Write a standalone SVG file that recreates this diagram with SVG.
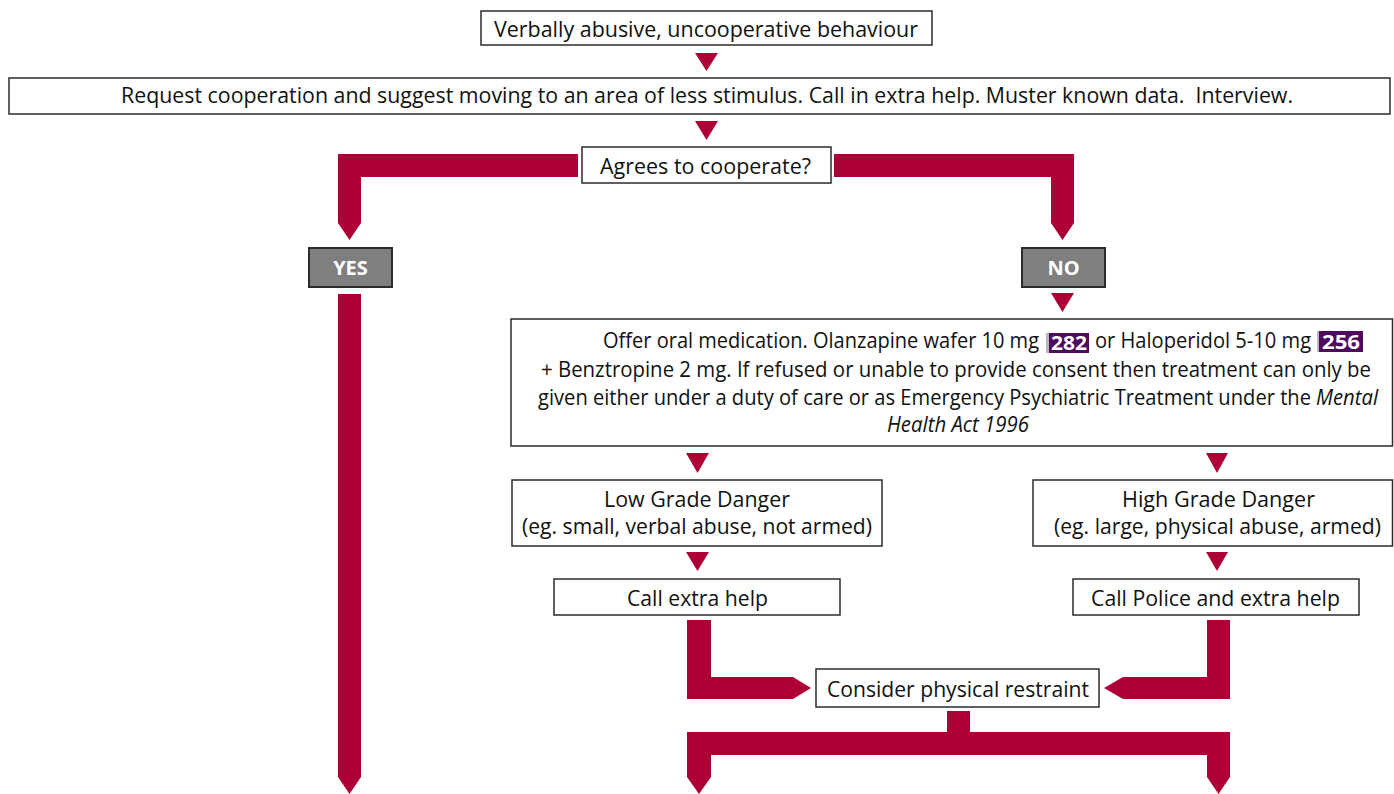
<svg xmlns="http://www.w3.org/2000/svg" width="1394" height="794" viewBox="0 0 1394 794">
  <style>
    .box { fill: #ffffff; stroke: #2b2b2b; stroke-width: 1.5; }
    .grey { fill: #7f7f7f; stroke: #2b2b2b; stroke-width: 2; }
    .flow { fill: #ad0034; }
    .t { font-family: "Open Sans", "Liberation Sans", sans-serif; font-size: 21px; fill: #111111; text-anchor: middle; }
    .tl { font-family: "Open Sans", "Liberation Sans", sans-serif; font-size: 21px; fill: #111111; }
    .lbl { font-family: "Open Sans", "Liberation Sans", sans-serif; font-size: 20px; font-weight: bold; fill: #ffffff; text-anchor: middle; }
    .badge { fill: #4e0a5f; }
    .sliver { fill: #b8b8b8; }
    .bt { font-family: "Open Sans", "Liberation Sans", sans-serif; font-size: 20px; font-weight: bold; fill: #ffffff; }
    .it { font-style: italic; }
  </style>

  <!-- connectors: thick flow arrows and small arrowheads -->
  <g id="connectors">
    <polygon class="flow" points="695,53 718,53 706.5,71"/>
    <polygon class="flow" points="695,121 718,121 706.5,140"/>
    <polygon class="flow" points="578,154 338,154 338,223 349.5,240 361,223 361,177 578,177"/>
    <polygon class="flow" points="834,154 1074,154 1074,223 1062.5,240 1051,223 1051,177 834,177"/>
    <polygon class="flow" points="338,294 361,294 361,777 349.5,794 338,777"/>
    <polygon class="flow" points="1051,293 1074,293 1062.5,312"/>
    <polygon class="flow" points="686,453 709,453 697.5,473"/>
    <polygon class="flow" points="1206,453 1228,453 1217,473"/>
    <polygon class="flow" points="686,552 709,552 697.5,571"/>
    <polygon class="flow" points="1206,552 1228,552 1217,571"/>
    <polygon class="flow" points="687,620 711,620 711,677 793,677 811,688 793,699 687,699"/>
    <polygon class="flow" points="1230,620 1207,620 1207,677 1123,677 1104,688 1123,699 1230,699"/>
    <polygon class="flow" points="947,711 970,711 970,732 1230,732 1230,777 1218.5,794 1207,777 1207,755 711,755 711,777 699,794 687,777 687,732 947,732"/>
  </g>

  <g id="start">
    <rect class="box" x="481" y="11" width="451" height="34"/>
    <text class="t" x="706" y="37" textLength="424" lengthAdjust="spacingAndGlyphs">Verbally abusive, uncooperative behaviour</text>
  </g>

  <g id="request">
    <rect class="box" x="9" y="78" width="1381" height="36"/>
    <text class="t" x="707" y="103" textLength="1172" lengthAdjust="spacingAndGlyphs" xml:space="preserve">Request cooperation and suggest moving to an area of less stimulus. Call in extra help. Muster known data.  Interview.</text>
  </g>

  <g id="agrees">
    <rect class="box" x="582" y="147" width="249" height="36"/>
    <text class="t" x="705.5" y="174" textLength="211" lengthAdjust="spacingAndGlyphs">Agrees to cooperate?</text>
  </g>

  <g id="yes">
    <rect class="grey" x="309" y="248" width="83" height="39"/>
    <text class="lbl" x="350.5" y="275">YES</text>
  </g>

  <g id="no">
    <rect class="grey" x="1022" y="248" width="83" height="39"/>
    <text class="lbl" x="1063.5" y="275">NO</text>
  </g>

  <g id="medication">
    <rect class="box" x="511" y="319" width="881.5" height="127"/>
    <rect class="sliver" x="1046" y="333" width="3" height="20"/>
    <rect class="badge" x="1049" y="333" width="40" height="20"/>
    <rect class="sliver" x="1317" y="331" width="2" height="21"/>
    <rect class="badge" x="1319" y="331" width="44" height="21"/>
    <!-- condensed runs: horizontal scale keeps them inside their slots -->
    <text class="tl" transform="translate(603,348) scale(0.78,1)" textLength="559" lengthAdjust="spacingAndGlyphs">Offer oral medication. Olanzapine wafer 10 mg</text>
    <text class="bt" x="1051" y="350" textLength="36" lengthAdjust="spacingAndGlyphs">282</text>
    <text class="tl" transform="translate(1095,348) scale(0.78,1)" textLength="277" lengthAdjust="spacingAndGlyphs">or Haloperidol 5-10 mg</text>
    <text class="bt" x="1322" y="349" textLength="38" lengthAdjust="spacingAndGlyphs">256</text>
    <text class="tl" x="541" y="377" textLength="830" lengthAdjust="spacingAndGlyphs">+ Benztropine 2 mg. If refused or unable to provide consent then treatment can only be</text>
    <text class="tl" transform="translate(538,405) scale(0.78,1)" textLength="991" lengthAdjust="spacingAndGlyphs">given either under a duty of care or as Emergency Psychiatric Treatment under the</text>
    <text class="tl it" x="1316" y="405" textLength="62" lengthAdjust="spacingAndGlyphs">Mental</text>
    <text class="tl it" x="887" y="432" textLength="142" lengthAdjust="spacingAndGlyphs">Health Act 1996</text>
  </g>

  <g id="low-grade">
    <rect class="box" x="512" y="480" width="370" height="66"/>
    <text class="t" x="697" y="507" textLength="186" lengthAdjust="spacingAndGlyphs">Low Grade Danger</text>
    <text class="t" x="697" y="534" textLength="350" lengthAdjust="spacingAndGlyphs">(eg. small, verbal abuse, not armed)</text>
  </g>

  <g id="high-grade">
    <rect class="box" x="1033" y="480" width="359.5" height="66"/>
    <text class="t" x="1218.5" y="507" textLength="193" lengthAdjust="spacingAndGlyphs">High Grade Danger</text>
    <text class="t" x="1217.5" y="534" textLength="327" lengthAdjust="spacingAndGlyphs">(eg. large, physical abuse, armed)</text>
  </g>

  <g id="call-help">
    <rect class="box" x="554" y="579" width="286" height="36"/>
    <text class="t" x="697.5" y="606" textLength="141" lengthAdjust="spacingAndGlyphs">Call extra help</text>
  </g>

  <g id="call-police">
    <rect class="box" x="1073" y="579" width="286" height="36"/>
    <text class="t" x="1215.5" y="606" textLength="249" lengthAdjust="spacingAndGlyphs">Call Police and extra help</text>
  </g>

  <g id="restraint">
    <rect class="box" x="816" y="669" width="283" height="38"/>
    <text class="t" x="958" y="697" textLength="262" lengthAdjust="spacingAndGlyphs">Consider physical restraint</text>
  </g>
</svg>
